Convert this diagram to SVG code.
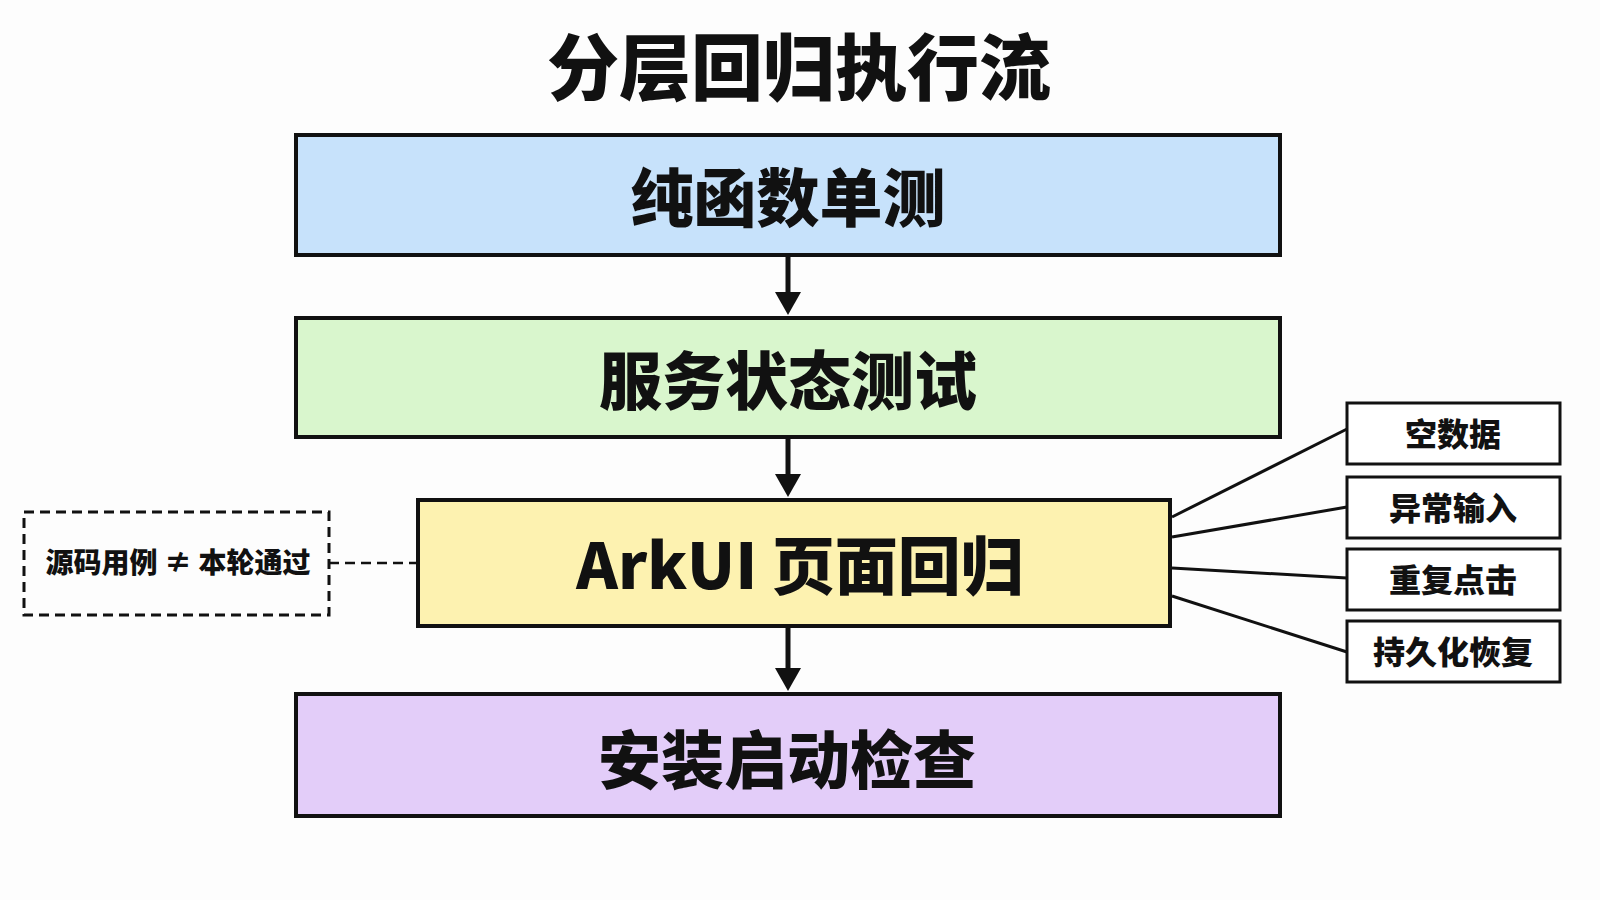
<svg xmlns="http://www.w3.org/2000/svg" width="1600" height="900" viewBox="0 0 1600 900">
<defs>
<style>
.main{stroke:#111;stroke-width:4}
.side{fill:#fff;stroke:#111;stroke-width:3}
.t{font-family:"Noto Sans CJK SC","Noto Sans",sans-serif;font-weight:900;fill:#111;text-anchor:middle;dominant-baseline:central}
.conn{stroke:#111;stroke-width:3;fill:none}
.shaft{stroke:#111;stroke-width:5;fill:none}
</style>
</defs>
<rect width="1600" height="900" fill="#fdfdfd"/>
<text class="t" x="799" y="62" font-size="72">分层回归执行流</text>

<g id="n1"><rect class="main" x="296" y="135" width="984" height="120" fill="#c7e2fb"/><text class="t" x="788" y="193" font-size="63">纯函数单测</text></g>
<g id="n2"><rect class="main" x="296" y="318" width="984" height="119" fill="#d9f6cd"/><text class="t" x="788" y="376" font-size="63">服务状态测试</text></g>
<g id="n3"><rect class="main" x="418" y="500" width="752" height="126" fill="#fdf2b0"/><text class="t" x="800" y="561" font-size="63">ArkUI 页面回归</text></g>
<g id="n4"><rect class="main" x="296" y="694" width="984" height="122" fill="#e3cdf9"/><text class="t" x="787" y="755" font-size="63">安装启动检查</text></g>

<g id="note"><rect x="24" y="512" width="305" height="103" fill="none" stroke="#111" stroke-width="3" stroke-dasharray="10 6"/><text class="t" x="178" y="561" font-size="28">源码用例 ≠ 本轮通过</text></g>

<g id="s1"><rect class="side" x="1347" y="403" width="213" height="61"/><text class="t" x="1453" y="432" font-size="32">空数据</text></g>
<g id="s2"><rect class="side" x="1347" y="477" width="213" height="61"/><text class="t" x="1453" y="506" font-size="32">异常输入</text></g>
<g id="s3"><rect class="side" x="1347" y="549" width="213" height="61"/><text class="t" x="1453" y="578" font-size="32">重复点击</text></g>
<g id="s4"><rect class="side" x="1347" y="621" width="213" height="61"/><text class="t" x="1453" y="650" font-size="32">持久化恢复</text></g>

<g id="connectors">
<line class="shaft" x1="788" y1="257" x2="788" y2="296"/>
<path d="M775,292 L801,292 L788,315 Z" fill="#111"/>
<line class="shaft" x1="788" y1="439" x2="788" y2="478"/>
<path d="M775,474 L801,474 L788,497 Z" fill="#111"/>
<line class="shaft" x1="788" y1="628" x2="788" y2="672"/>
<path d="M775,668 L801,668 L788,691 Z" fill="#111"/>
<line x1="329" y1="563" x2="416" y2="563" stroke="#111" stroke-width="2.5" stroke-dasharray="10 6"/>
<line class="conn" x1="1172" y1="517" x2="1347" y2="429"/>
<line class="conn" x1="1172" y1="537" x2="1347" y2="507"/>
<line class="conn" x1="1172" y1="568" x2="1347" y2="578"/>
<line class="conn" x1="1172" y1="596" x2="1347" y2="652"/>
</g>
</svg>
